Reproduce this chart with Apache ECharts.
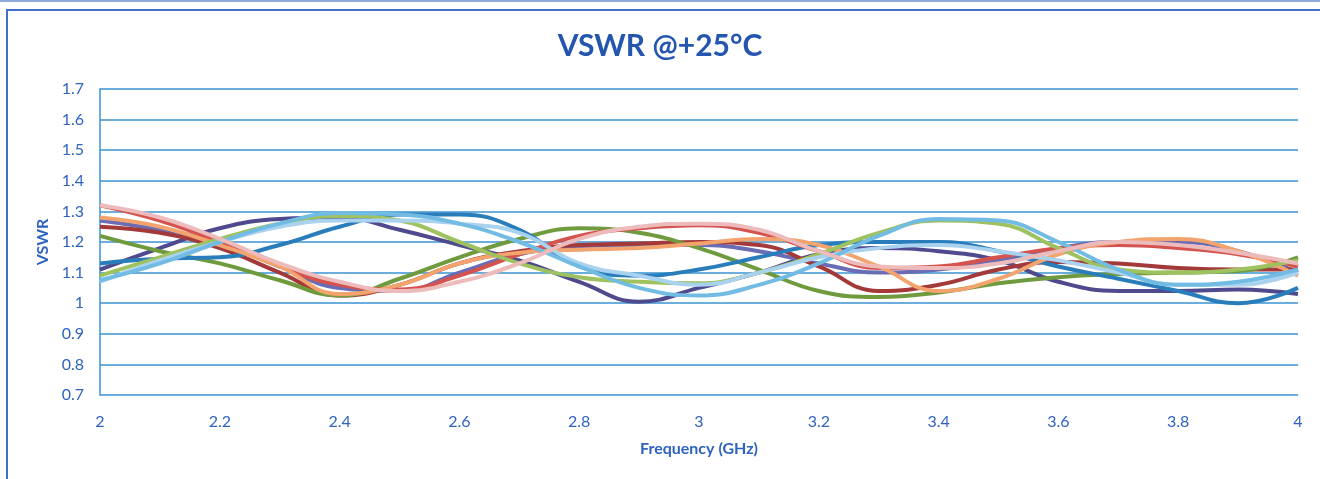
<!DOCTYPE html>
<html>
<head>
<meta charset="utf-8">
<script src="https://cdn.jsdelivr.net/npm/echarts@6/dist/echarts.min.js"></script>
<style>
html,body{margin:0;padding:0;background:#fff;}
#c{width:1320px;height:479px;}
</style>
</head>
<body>
<div id="c"></div>
<script>
const freq = [2.0,2.1,2.2,2.3,2.4,2.5,2.6,2.7,2.8,2.9,3.0,3.1,3.2,3.3,3.4,3.5,3.6,3.7,3.8,3.9,4.0];
const xTicks = ['2','2.2','2.4','2.6','2.8','3','3.2','3.4','3.6','3.8','4'];
const yTicks = ['0.7','0.8','0.9','1','1.1','1.2','1.3','1.4','1.5','1.6','1.7'];

const blueS    = [1.13,1.145,1.15,1.19,1.25,1.29,1.29,1.24,1.12,1.09,1.11,1.15,1.19,1.2,1.2,1.17,1.12,1.08,1.04,1.0,1.05];
const redS     = [1.32,1.27,1.2,1.12,1.06,1.045,1.09,1.16,1.22,1.245,1.255,1.23,1.17,1.115,1.12,1.15,1.18,1.19,1.18,1.16,1.12];
const pinkS    = [1.32,1.28,1.21,1.13,1.07,1.04,1.07,1.13,1.21,1.25,1.26,1.24,1.17,1.12,1.115,1.13,1.17,1.2,1.19,1.165,1.13];
const orangeS  = [1.28,1.25,1.19,1.12,1.03,1.06,1.13,1.165,1.175,1.18,1.195,1.21,1.19,1.12,1.04,1.08,1.16,1.2,1.21,1.17,1.09];
const maroonS  = [1.25,1.23,1.18,1.1,1.025,1.06,1.13,1.17,1.19,1.195,1.2,1.19,1.12,1.04,1.06,1.11,1.135,1.13,1.115,1.11,1.11];
const greenS   = [1.22,1.17,1.13,1.075,1.025,1.08,1.15,1.21,1.245,1.23,1.18,1.11,1.04,1.02,1.035,1.065,1.085,1.095,1.1,1.105,1.15];
const ltGreenS = [1.09,1.15,1.21,1.26,1.285,1.27,1.2,1.13,1.085,1.07,1.065,1.1,1.16,1.23,1.27,1.26,1.18,1.11,1.1,1.11,1.14];
const cyanS    = [1.075,1.13,1.2,1.26,1.295,1.29,1.26,1.2,1.12,1.05,1.025,1.06,1.13,1.22,1.275,1.27,1.2,1.11,1.06,1.07,1.11];
const ltBlueS  = [1.07,1.14,1.2,1.25,1.27,1.27,1.26,1.23,1.13,1.09,1.06,1.1,1.15,1.18,1.19,1.17,1.14,1.1,1.06,1.06,1.1];
const purpleS  = [1.11,1.18,1.245,1.275,1.28,1.24,1.19,1.14,1.07,1.005,1.05,1.1,1.16,1.18,1.17,1.14,1.07,1.04,1.04,1.045,1.03];
const navyS    = [1.27,1.24,1.2,1.12,1.05,1.04,1.1,1.16,1.185,1.19,1.19,1.17,1.13,1.1,1.11,1.14,1.18,1.2,1.2,1.17,1.1];

const seriesDefs = [
  ['Purple', purpleS, '#4F4A8E'],
  ['Navy', navyS, '#6A6CB4'],
  ['Maroon', maroonS, '#A4393A'],
  ['Green', greenS, '#6F9A3E'],
  ['Blue', blueS, '#2A7DBB'],
  ['Red', redS, '#D4534E'],
  ['Orange', orangeS, '#F3A46E'],
  ['LightGreen', ltGreenS, '#9EC25F'],
  ['LightBlue', ltBlueS, '#A9D2EF'],
  ['Cyan', cyanS, '#72BCE4'],
  ['Pink', pinkS, '#EDBBBB']
];

const chart = echarts.init(document.getElementById('c'), null, {renderer:'canvas'});
const labelColor = '#2F63C0';
const gridColor = '#3A93D3';
chart.setOption({
  animation:false,
  backgroundColor:'#fff',
  title:{
    text:'VSWR @+25°C', left:'center', top:26,
    textStyle:{fontFamily:'Lato', fontWeight:'bold', fontSize:30, color:'#2456B0'}
  },
  graphic:[
    {type:'rect', shape:{x:7, y:10, width:1330, height:500}, style:{fill:'none', stroke:'#3F72C6', lineWidth:2}, silent:true, z:-1},
    {type:'line', shape:{x1:0, y1:1, x2:1320, y2:1}, style:{stroke:'#6A8FD0', lineWidth:1.5}, silent:true}
  ],
  grid:{left:100, right:22, top:89, bottom:84},
  xAxis:{
    type:'value', min:2, max:4, interval:0.2,
    name:'Frequency (GHz)', nameLocation:'middle', nameGap:46,
    nameTextStyle:{fontFamily:'Lato', fontWeight:'bold', fontSize:16, color:labelColor},
    axisLine:{show:false}, axisTick:{show:false}, splitLine:{show:false},
    axisLabel:{fontFamily:'Lato', fontSize:16, color:labelColor, margin:19,
      formatter:(v)=>{const i=Math.round((v-2)/0.2); return xTicks[i]!==undefined?xTicks[i]:'';}}
  },
  yAxis:{
    type:'value', min:0.7, max:1.7, interval:0.1,
    name:'VSWR', nameLocation:'middle', nameGap:48, nameRotate:90,
    nameTextStyle:{fontFamily:'Lato', fontWeight:'bold', fontSize:16, color:labelColor},
    axisLine:{show:true, lineStyle:{color:gridColor, width:1.5}}, axisTick:{show:false},
    splitLine:{show:true, lineStyle:{color:gridColor, width:1.5}},
    axisLabel:{fontFamily:'Lato', fontSize:16, color:labelColor, margin:16,
      formatter:(v)=>{const i=Math.round((v-0.7)/0.1); return yTicks[i]!==undefined?yTicks[i]:'';}}
  },
  series: seriesDefs.map(([name, vals, color])=>({
    name, type:'line', smooth:0.45, symbol:'none',
    lineStyle:{color, width:4},
    data: freq.map((f,i)=>[f, vals[i]])
  }))
});
</script>
</body>
</html>
